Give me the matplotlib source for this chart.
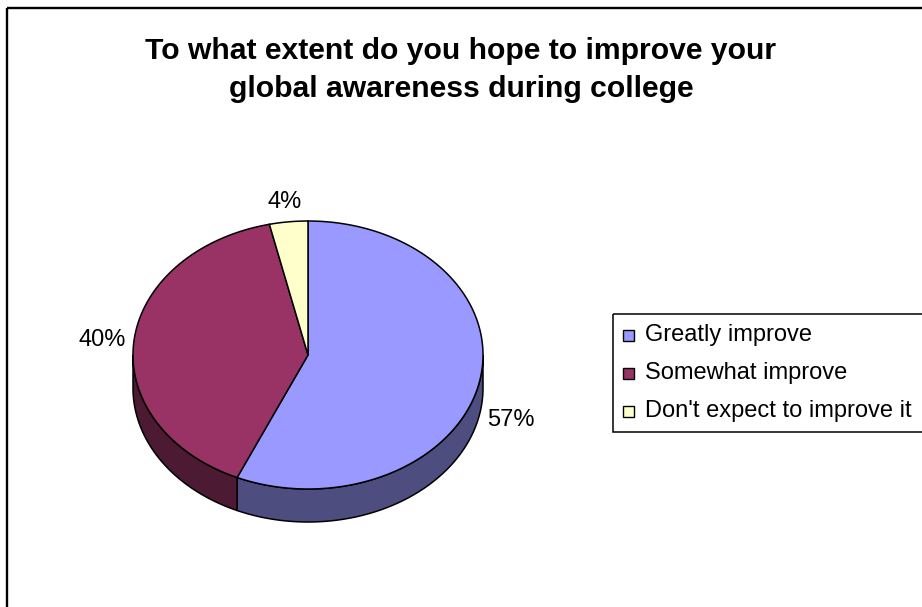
import numpy as np
import matplotlib.pyplot as plt
from matplotlib.patches import Polygon, Rectangle

plt.rcParams['font.family'] = ['Liberation Sans', 'DejaVu Sans']

title = "To what extent do you hope to improve your\nglobal awareness during college"
labels = ["Greatly improve", "Somewhat improve", "Don't expect to improve it"]
counts = [64, 45, 4]
top_colors = ["#9999FF", "#993366", "#FFFFCC"]
side_colors = ["#4D4D80", "#4D1A33", "#808066"]

# pie geometry in pixels (y grows downward)
cx, cy = 308, 355
rx, ry = 175, 134
depth = 33


def rim(t0, t1, n=200):
    # points on the top ellipse, angle measured clockwise from 12 o'clock
    t = np.radians(np.linspace(t0, t1, n))
    return cx + rx * np.sin(t), cy - ry * np.cos(t)


fig = plt.figure(figsize=(9.22, 6.07), dpi=100)
ax = fig.add_axes([0, 0, 1, 1])
ax.set_xlim(0, 922)
ax.set_ylim(607, 0)
ax.axis('off')

# outer chart border
ax.add_patch(Rectangle((6.5, 8), 1000, 1000, fill=False, edgecolor='black', lw=1.7))

fracs = np.array(counts) / sum(counts)
edges = np.concatenate([[0], np.cumsum(fracs) * 360])

# side walls first (only the front half, 90..270 degrees, is visible)
for i in range(len(counts)):
    a0, a1 = max(edges[i], 90), min(edges[i + 1], 270)
    if a1 <= a0:
        continue
    x, y = rim(a0, a1)
    pts = np.column_stack([np.concatenate([x, x[::-1]]),
                           np.concatenate([y, y[::-1] + depth])])
    ax.add_patch(Polygon(pts, closed=True, facecolor=side_colors[i],
                         edgecolor='black', lw=1.1))

# top faces
for i in range(len(counts)):
    x, y = rim(edges[i], edges[i + 1])
    pts = np.column_stack([np.concatenate([[cx], x]), np.concatenate([[cy], y])])
    ax.add_patch(Polygon(pts, closed=True, facecolor=top_colors[i],
                         edgecolor='black', lw=1.1, joinstyle='miter'))

# percentage labels outside each slice
for i in range(len(counts)):
    mid = np.radians((edges[i] + edges[i + 1]) / 2)
    lx = cx + (rx + 32) * np.sin(mid)
    ly = cy - (ry + 20) * np.cos(mid)
    if np.cos(mid) < 0:
        ly += depth
    ax.text(lx, ly, f"{fracs[i] * 100:.0f}%", fontsize=17,
            ha='center', va='center')

ax.text(461, 70, title, fontsize=21.7, fontweight='bold', ha='center',
        va='center', linespacing=1.42)

# legend box, running off the right edge
lx0, ly0, row = 613, 314, 38
ax.add_patch(Rectangle((lx0, ly0), 400, 2 * 21 + 2 * row, fill=False,
                       edgecolor='black', lw=1.1))
for i, lab in enumerate(labels):
    yc = ly0 + 21 + i * row
    ax.add_patch(Rectangle((lx0 + 10, yc - 5.5), 11, 11, facecolor=top_colors[i],
                           edgecolor='black', lw=1))
    ax.text(lx0 + 32, yc, lab, fontsize=17, ha='left', va='center')

fig.savefig("out.png", dpi=100)
